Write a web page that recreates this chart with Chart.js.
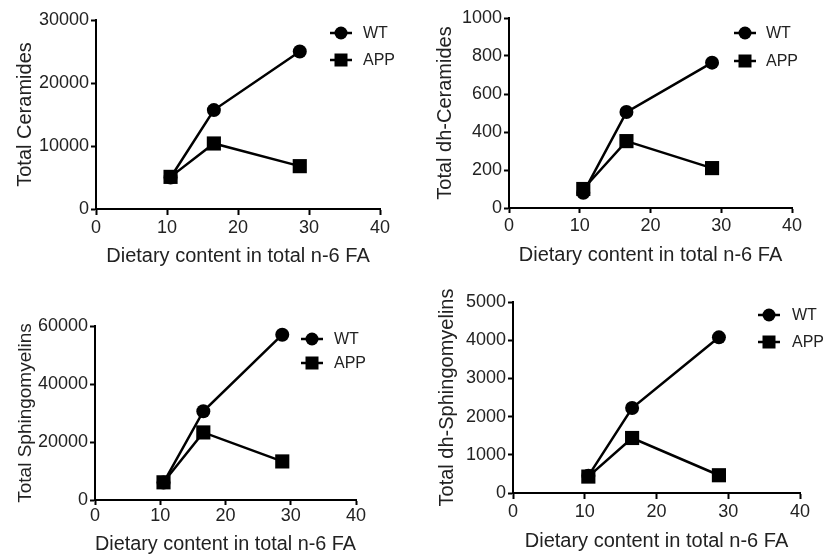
<!DOCTYPE html>
<html>
<head>
<meta charset="utf-8">
<script src="https://cdn.jsdelivr.net/npm/chart.js@4/dist/chart.umd.min.js"></script>
<style>
  body { margin: 0; background: #fff; }
  #wrap { position: relative; width: 824px; height: 556px; }
  .panel { position: absolute; width: 412px; height: 278px; }
</style>
</head>
<body>
<div id="wrap">
  <div class="panel" style="left:0;top:0"><canvas id="c1" width="412" height="278"></canvas></div>
  <div class="panel" style="left:412px;top:0"><canvas id="c2" width="412" height="278"></canvas></div>
  <div class="panel" style="left:0;top:278px"><canvas id="c3" width="412" height="278"></canvas></div>
  <div class="panel" style="left:412px;top:278px"><canvas id="c4" width="412" height="278"></canvas></div>
</div>
<script>
// dietary n-6 FA content (x) shared by all panels
const dietN6 = [10.5, 16.6, 28.7];
const seriesNames = ["WT", "APP"];

const cerWT = [5000, 15700, 25000];
const cerAPP = [5100, 10400, 6800];
const dhCerWT = [80, 505, 765];
const dhCerAPP = [100, 352, 210];
const smWT = [6000, 30600, 57000];
const smAPP = [6100, 23300, 13300];
const dhSmWT = [450, 2225, 4075];
const dhSmAPP = [430, 1440, 465];

const xTicks = [0, 10, 20, 30, 40];
const yLabels = ["Total Ceramides", "Total dh-Ceramides", "Total Sphingomyelins", "Total dh-Sphingomyelins"];
const yMax = [30000, 1000, 60000, 5000];
const yStep = [10000, 200, 20000, 1000];

const FONT = "'Liberation Sans', Arial, Helvetica, sans-serif";
const TXT = "#222";

// little legend drawn inside the plot, line + marker like the original figure
const innerLegend = {
  id: "innerLegend",
  afterDraw(chart, args, opts) {
    const ctx = chart.ctx;
    ctx.save();
    chart.data.datasets.forEach((ds, i) => {
      const x = opts.x, y = opts.y + i * opts.gap;
      ctx.strokeStyle = "#000";
      ctx.lineWidth = 2.5;
      ctx.beginPath();
      ctx.moveTo(x - 11, y);
      ctx.lineTo(x + 11, y);
      ctx.stroke();
      ctx.fillStyle = "#000";
      ctx.beginPath();
      if (ds.pointStyle === "rect") {
        ctx.rect(x - 6.5, y - 6.5, 13, 13);
      } else {
        ctx.arc(x, y, 6.5, 0, Math.PI * 2);
      }
      ctx.fill();
      ctx.fillStyle = TXT;
      ctx.font = "16px " + FONT;
      ctx.textBaseline = "middle";
      ctx.fillText(ds.label, x + opts.dx, y + 1);
    });
    ctx.restore();
  }
};

function makeChart(id, idx, wt, app, lay) {
  const pts = arr => arr.map((v, i) => ({ x: dietN6[i], y: v }));
  return new Chart(document.getElementById(id), {
    type: "line",
    data: {
      datasets: [
        { label: seriesNames[0], data: pts(wt), borderColor: "#000", backgroundColor: "#000",
          borderWidth: 2.5, pointStyle: "circle", pointRadius: 7, pointBorderWidth: 0 },
        { label: seriesNames[1], data: pts(app), borderColor: "#000", backgroundColor: "#000",
          borderWidth: 2.5, pointStyle: "rect", pointRadius: 10, pointBorderWidth: 0 }
      ]
    },
    options: {
      responsive: false,
      animation: false,
      layout: { padding: { top: lay.top, right: lay.right, bottom: 0, left: 0 } },
      plugins: {
        legend: { display: false },
        tooltip: { enabled: false },
        innerLegend: lay.legend
      },
      scales: {
        x: {
          type: "linear", min: 0, max: 40,
          afterFit: s => { s.height = lay.xH; },
          afterBuildTicks: s => { s.ticks = xTicks.map(v => ({ value: v })); },
          border: { display: true, color: "#000", width: 2 },
          grid: { drawOnChartArea: false, tickLength: lay.xTick, tickWidth: 2, tickColor: "#000" },
          ticks: { color: TXT, font: { family: FONT, size: 18 }, padding: lay.xPad, callback: v => String(v) },
          title: { display: true, text: "Dietary content in total n-6 FA", color: TXT,
                   font: { family: FONT, size: 20 }, padding: { top: 0, bottom: lay.xTitle } }
        },
        y: {
          min: 0, max: yMax[idx],
          afterFit: s => { s.width = lay.yW; },
          border: { display: true, color: "#000", width: 2 },
          grid: { drawOnChartArea: false, tickLength: 5, tickWidth: 2, tickColor: "#000" },
          ticks: { stepSize: yStep[idx], color: TXT, font: { family: FONT, size: 18 }, padding: 2,
                   callback: v => String(v) },
          title: { display: true, text: yLabels[idx], color: TXT,
                   font: { family: FONT, size: lay.ySize }, padding: { top: lay.yTitle, bottom: 0 } }
        }
      }
    },
    plugins: [innerLegend]
  });
}

makeChart("c1", 0, cerWT, cerAPP, { yW: 96, top: 20, right: 32, xH: 69, xTick: 6, xPad: 2, xTitle: 10, yTitle: 13, ySize: 20,
  legend: { x: 341, y: 33, gap: 27, dx: 22 } });
makeChart("c2", 1, dhCerWT, dhCerAPP, { yW: 97, top: 18, right: 32, xH: 70, xTick: 5, xPad: 2, xTitle: 11, yTitle: 21, ySize: 20,
  legend: { x: 333, y: 33, gap: 28, dx: 21 } });
makeChart("c3", 2, smWT, smAPP, { yW: 95, top: 48, right: 56, xH: 56, xTick: 5, xPad: 0, xTitle: 0, yTitle: 14, ySize: 19,
  legend: { x: 312, y: 61, gap: 24, dx: 22 } });
makeChart("c4", 3, dhSmWT, dhSmAPP, { yW: 101, top: 24, right: 24, xH: 63, xTick: 6, xPad: 2, xTitle: 3, yTitle: 23, ySize: 20,
  legend: { x: 357, y: 37, gap: 27, dx: 23 } });
</script>
</body>
</html>
